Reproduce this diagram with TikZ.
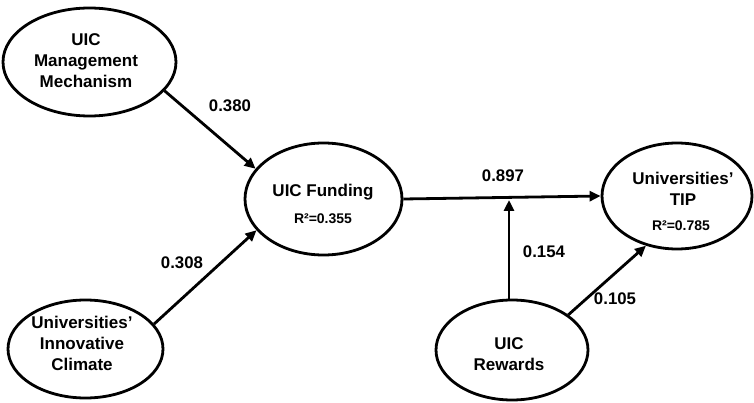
\documentclass[tikz,border=0pt]{standalone}
\usepackage{fontspec}
\setmainfont{Liberation Sans}
\usetikzlibrary{shapes.geometric,arrows.meta}
\begin{document}
\begin{tikzpicture}[x=1pt,y=-1pt,
  construct/.style={draw, ellipse, line width=2.8pt, inner sep=0pt},
  caption/.style={font=\fontsize{17}{21}\selectfont\bfseries, align=center, inner sep=0pt},
  rsq/.style={font=\fontsize{14}{16}\selectfont\bfseries, inner sep=0pt, anchor=base},
  coef/.style={font=\fontsize{16.8}{20}\selectfont\bfseries, inner sep=0pt, anchor=base},
  link/.style={line width=2.8pt, -{Triangle[length=11pt,width=10pt]}},
]
\useasboundingbox (0,0) rectangle (754,403);

% latent constructs
\node[construct, minimum width=173pt, minimum height=108pt] (mech) at (89.5,62) {};
\node[construct, minimum width=155pt, minimum height=98pt]  (clim) at (85.5,349) {};
\node[construct, minimum width=157pt, minimum height=112pt] (fund) at (323.5,199) {};
\node[construct, minimum width=150pt, minimum height=106pt] (tip)  at (677,196) {};
\node[construct, minimum width=152pt, minimum height=100pt] (rew)  at (512,350) {};

% construct names
\node[caption] (mechT) at (86,61) {UIC\\Management\\Mechanism};
\node[caption] (climT) at (82,343) {Universities’\\Innovative\\Climate};
\node[caption, anchor=base] (fundT) at (323,197) {UIC Funding};
\node[caption] (tipT) at (683,189) {Universities’\\TIP};
\node[caption] (rewT) at (509,354) {UIC\\Rewards};

% explained variance
\node[rsq] (fundR) at (323,224) {R²=0.355};
\node[rsq] (tipR)  at (681,231) {R²=0.785};

% structural paths
\coordinate (join) at (509,200);
\draw[link] (mech.-21) -- (fund.156);
\draw[link] (clim.20) -- (fund.205);
\draw[link] (fund.east) -- (tip.west);
\draw[link] (rew.north -| join) -- (join);
\draw[link] (rew.32) -- (tip.238);

% path coefficients
\node[coef] (c1) at (230,112) {0.380};
\node[coef] (c2) at (182,268) {0.308};
\node[coef] (c3) at (503,182) {0.897};
\node[coef] (c4) at (544,258) {0.154};
\node[coef] (c5) at (615,304) {0.105};
\end{tikzpicture}
\end{document}
